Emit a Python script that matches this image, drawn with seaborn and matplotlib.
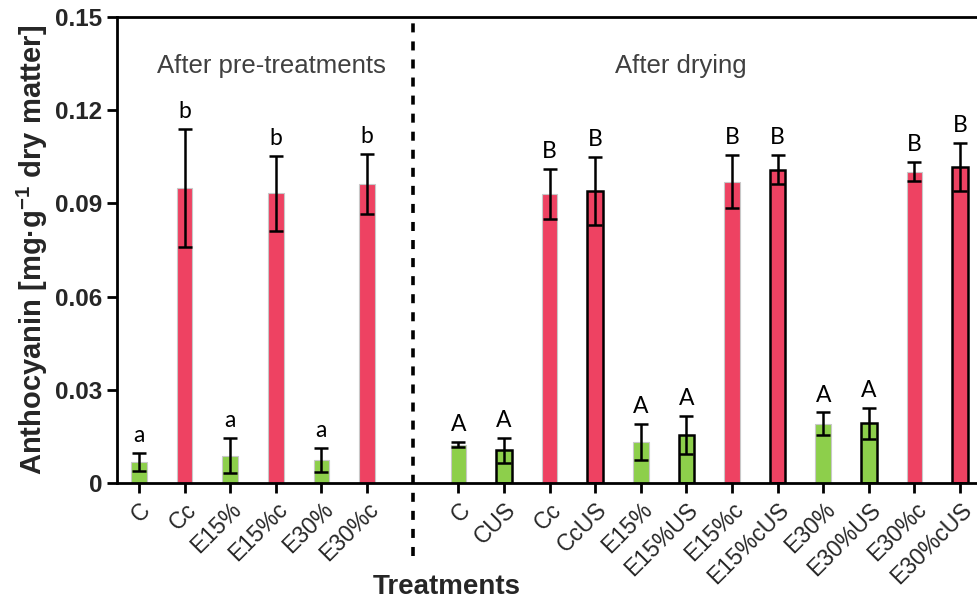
import matplotlib
matplotlib.use("Agg")
import matplotlib.pyplot as plt
import seaborn as sns
import pandas as pd

# ---------------- data ----------------
pre_labels = ["C", "Cc", "E15%", "E15%c", "E30%", "E30%c"]
pre_values = [0.0068, 0.0950, 0.0088, 0.0932, 0.0074, 0.0963]
pre_errors = [0.0030, 0.0190, 0.0056, 0.0120, 0.0040, 0.0096]
pre_letters = ["a", "b", "a", "b", "a", "b"]

dry_labels = ["C", "CUS", "Cc", "CcUS", "E15%", "E15%US", "E15%c", "E15%cUS",
              "E30%", "E30%US", "E30%c", "E30%cUS"]
dry_values = [0.0123, 0.0105, 0.0930, 0.0940, 0.0132, 0.0154, 0.0970, 0.1008,
              0.0190, 0.0192, 0.1002, 0.1017]
dry_errors = [0.0008, 0.0040, 0.0080, 0.0110, 0.0057, 0.0062, 0.0085, 0.0047,
              0.0037, 0.0050, 0.0031, 0.0077]
dry_letters = ["A", "A", "B", "B", "A", "A", "B", "B", "A", "A", "B", "B"]

group_titles = ["After pre-treatments", "After drying"]
y_ticks = [0, 0.03, 0.06, 0.09, 0.12, 0.15]
y_ticklabels = ["0", "0.03", "0.06", "0.09", "0.12", "0.15"]
x_title = "Treatments"
y_title = r"Anthocyanin [mg·g$^{\mathbf{-1}}$ dry matter]"

GREEN = "#8DCF4B"
RED = "#EE4262"

# ---------------- build table ----------------
rows = []
for lab, v, e, l in zip(pre_labels, pre_values, pre_errors, pre_letters):
    rows.append(dict(key="pre|" + lab, label=lab, value=v, err=e, letter=l))
for lab, v, e, l in zip(dry_labels, dry_values, dry_errors, dry_letters):
    rows.append(dict(key="dry|" + lab, label=lab, value=v, err=e, letter=l))
df = pd.DataFrame(rows)

order = ["pre|" + l for l in pre_labels] + ["gap"] + ["dry|" + l for l in dry_labels]
label_of = dict(zip(df["key"], df["label"]))
palette = {k: (RED if "c" in label_of[k] else GREEN) for k in df["key"]}

sns.set_theme(style="white")
plt.rcParams["font.family"] = ["Liberation Sans", "DejaVu Sans"]
plt.rcParams["mathtext.fontset"] = "custom"
plt.rcParams["mathtext.rm"] = "Liberation Sans"
plt.rcParams["mathtext.bf"] = "Liberation Sans:bold"

fig = plt.figure(figsize=(9.77, 6.06), dpi=100)
ax = fig.add_axes([117 / 977, 1 - 483 / 606, 1 - 117 / 977, (483 - 17) / 606])

sns.barplot(data=df, x="key", y="value", order=order, hue="key", palette=palette,
            width=0.34, legend=False, errorbar=None, ax=ax, saturation=1)

pos = {k: i for i, k in enumerate(order)}
for p in ax.patches:
    c = p.get_x() + p.get_width() / 2
    idx = int(round(c))
    k = order[idx]
    if k == "gap":
        continue
    if "US" in label_of[k]:
        p.set_edgecolor("black")
        p.set_linewidth(1.8)
    else:
        p.set_edgecolor("#c8c8c8")
        p.set_linewidth(0.8)

xs = [pos[k] for k in df["key"]]
ax.errorbar(xs, df["value"], yerr=df["err"], fmt="none", ecolor="black",
            elinewidth=1.8, capsize=5, capthick=1.8, zorder=5)

for x, v, e, l in zip(xs, df["value"], df["err"], df["letter"]):
    ax.annotate(l, (x, v + e), xytext=(0, 5), textcoords="offset points",
                ha="center", va="bottom", fontsize=16.5, family=["Lato", "DejaVu Sans"],
                color="black")

# dashed separator
ax.plot([pos["gap"], pos["gap"]], [-0.0235, 0.15], color="black", lw=2.6,
        ls=(0, (2.5, 2.5)), clip_on=False, zorder=6)

ax.set_xlim(-0.48, len(order) - 1 + 0.37)
ax.set_ylim(0, 0.15)
ax.set_yticks(y_ticks)
ax.set_yticklabels(y_ticklabels, fontsize=17.5, fontweight="bold")
ticks = [pos[k] for k in df["key"]]
ax.set_xticks(ticks)
ax.set_xticklabels(df["label"], rotation=45, ha="right", rotation_mode="anchor",
                   fontsize=16.5)
ax.set_xlabel("")
ax.set_ylabel(y_title, fontsize=21, fontweight="bold", labelpad=4)

for s in ["left", "bottom", "top"]:
    ax.spines[s].set_visible(True)
    ax.spines[s].set_color("black")
    ax.spines[s].set_linewidth(2)
ax.spines["right"].set_visible(False)
ax.tick_params(axis="both", direction="out", length=7, width=2, color="black",
               bottom=True, left=True)
ax.tick_params(axis="x", pad=4)

# group titles
ax.text(2.9, 0.1342, group_titles[0], ha="center", va="center",
        fontsize=18.5, color="#404040")
ax.text(11.87, 0.1342, group_titles[1], ha="center", va="center",
        fontsize=18.5, color="#404040")

fig.text(447 / 977, 1 - 587 / 606, x_title, ha="center", va="center",
         fontsize=20, fontweight="bold")

fig.savefig("out.png", dpi=100)
